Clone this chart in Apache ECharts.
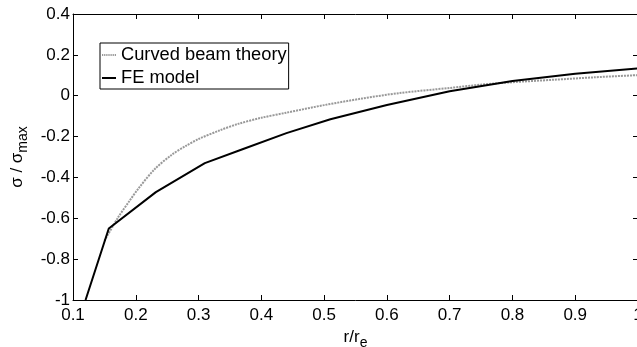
<!DOCTYPE html>
<html>
<head>
<meta charset="utf-8">
<script src="https://cdn.jsdelivr.net/npm/echarts@6/dist/echarts.min.js"></script>
<style>html,body{margin:0;padding:0;background:#fff}#c{width:637px;height:347px}</style>
</head>
<body>
<div id="c"></div>
<script>
var feX = [0.12, 0.157, 0.232, 0.31, 0.37, 0.44, 0.51, 0.60, 0.70, 0.80, 0.90, 1.0];
var feY = [-1.0, -0.65, -0.472, -0.330, -0.262, -0.183, -0.115, -0.045, 0.022, 0.072, 0.107, 0.134];
var cbX = [0.15, 0.172, 0.19, 0.204, 0.23, 0.257, 0.28, 0.30, 0.335, 0.363, 0.40, 0.44, 0.50, 0.56, 0.62, 0.70, 0.75, 0.80, 0.865, 0.93, 1.0];
var cbY = [-0.71, -0.595, -0.515, -0.455, -0.36, -0.29, -0.245, -0.212, -0.168, -0.138, -0.108, -0.083, -0.046, -0.014, 0.013, 0.038, 0.054, 0.066, 0.078, 0.09, 0.101];
var seriesNames = ['Curved beam theory', 'FE model'];
var xName = 'r/r';
var xNameSub = 'e';
var yName = 'σ / σ';
var yNameSub = 'max';

function pairs(xs, ys) { return xs.map(function (x, i) { return [x, ys[i]]; }); }
var FONT = 'Liberation Sans, Arial, sans-serif';
var fmt = function (v) { return String(parseFloat(v.toFixed(2))); };
var axLine = { show: true, onZero: false, lineStyle: { color: '#000', width: 1 } };
var tick = { show: true, inside: true, length: 5, lineStyle: { color: '#000' } };
var dots = 'path://';
for (var i = 0; i < 14; i += 2) { dots += 'M' + i + ',0h1.2v2h-1.2z'; }

var chart = echarts.init(document.getElementById('c'));
chart.setOption({
  animation: false,
  textStyle: { fontFamily: FONT },
  grid: { left: 73, top: 14, width: 565, bottom: 47, containLabel: false, outerBoundsMode: 'none' },
  legend: {
    left: 100, top: 43, orient: 'vertical',
    data: [
      { name: seriesNames[0], icon: dots, itemStyle: { color: '#999' } },
      { name: seriesNames[1], icon: 'path://M0,0h14v2h-14z', itemStyle: { color: '#000' } }
    ],
    borderColor: '#000', borderWidth: 1, backgroundColor: '#fff', borderRadius: 0,
    padding: [3, 2, 2, 2], itemGap: 5, itemWidth: 14, itemHeight: 17,
    textStyle: { fontSize: 18.3, color: '#000', fontFamily: FONT }
  },
  xAxis: [{
    type: 'value', min: 0.1, max: 1, interval: 0.1, position: 'bottom',
    axisLine: axLine, axisTick: tick, splitLine: { show: false },
    axisLabel: { fontSize: 17, color: '#000', margin: 7, formatter: fmt, fontFamily: FONT },
    name: xName + '{s|' + xNameSub + '}', nameLocation: 'middle', nameGap: 24,
    nameTextStyle: { fontSize: 17, color: '#000', fontFamily: FONT,
      rich: { s: { fontSize: 14, color: '#000', padding: [12, 0, 0, 0], fontFamily: FONT } } }
  }, {
    type: 'value', min: 0.1, max: 1, interval: 0.1, position: 'top',
    axisLine: axLine, axisTick: tick, axisLabel: { show: false }, splitLine: { show: false }
  }],
  yAxis: [{
    type: 'value', min: -1, max: 0.4, interval: 0.2, position: 'left',
    axisLine: axLine, axisTick: tick, splitLine: { show: false },
    axisLabel: { fontSize: 17, color: '#000', margin: 3, formatter: fmt, fontFamily: FONT },
    name: yName + '{s|' + yNameSub + '}', nameLocation: 'middle', nameGap: 34,
    nameTextStyle: { fontSize: 17, color: '#000', fontFamily: FONT,
      rich: { s: { fontSize: 14, color: '#000', padding: [10, 0, 0, 0], fontFamily: FONT } } }
  }, {
    type: 'value', min: -1, max: 0.4, interval: 0.2, position: 'right',
    axisLine: axLine, axisTick: tick, axisLabel: { show: false }, splitLine: { show: false }
  }],
  series: [{
    name: seriesNames[0], type: 'line', data: pairs(cbX, cbY), symbol: 'none', smooth: 0.3,
    lineStyle: { color: '#999', width: 2, type: [2, 1] }, itemStyle: { color: '#999' }, z: 2
  }, {
    name: seriesNames[1], type: 'line', data: pairs(feX, feY), symbol: 'none',
    lineStyle: { color: '#000', width: 2 }, itemStyle: { color: '#000' }, z: 3
  }]
});
</script>
</body>
</html>
